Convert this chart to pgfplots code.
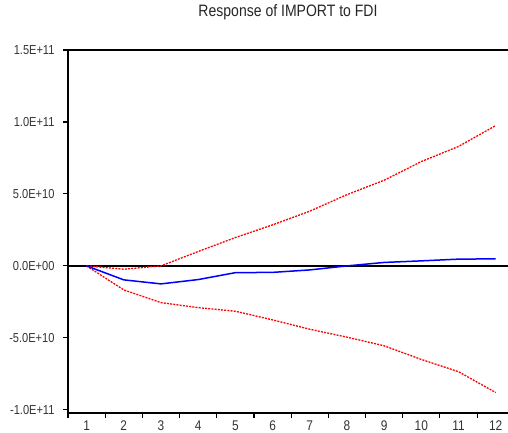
\documentclass[border=0pt]{standalone}
\usepackage{pgfplots}
\pgfplotsset{compat=1.18}
\usepackage{fontspec}
\setmainfont{Liberation Sans}[FakeStretch=0.85]

% Impulse response of IMPORT to a shock in FDI, with +/- 2 S.E. bands
\pgfplotstableread{
h  resp      upper     lower
1  0         0         0
2  -0.97e10  -0.23e10  -1.67e10
3  -1.25e10  0         -2.55e10
4  -0.95e10  1.00e10   -2.90e10
5  -0.47e10  1.97e10   -3.15e10
6  -0.45e10  2.85e10   -3.75e10
7  -0.28e10  3.80e10   -4.40e10
8  0.00e10   4.95e10   -4.95e10
9  0.24e10   5.95e10   -5.55e10
10 0.35e10   7.25e10   -6.50e10
11 0.47e10   8.30e10   -7.35e10
12 0.49e10   9.75e10   -8.80e10
}\irf

\begin{document}
\begin{tikzpicture}
\begin{axis}[
  scale only axis,
  width=440pt, height=363pt,
  xmin=0.5, xmax=12.33,
  ymin=-1.022e11, ymax=1.5e11,
  axis x line*=bottom, axis y line*=left,
  axis line style={line width=1.4pt, -},
  tick style={black, line width=1.1pt},
  tick align=outside,
  major tick length=5pt,
  xtick={0.5,1.5,...,11.5}, xticklabels={},
  extra x ticks={1,...,12},
  extra x tick labels={1,2,3,4,5,6,7,8,9,10,11,12},
  extra x tick style={major tick length=0pt,
    xticklabel style={yshift=-4pt, font=\fontsize{14}{14}\selectfont}},
  ytick={-1e11,-5e10,0,5e10,1e11,1.5e11},
  yticklabels={-1.0E+11,-5.0E+10,0.0E+00,5.0E+10,1.0E+11,1.5E+11},
  yticklabel style={xshift=-5pt},
  ticklabel style={font=\fontsize{13}{13}\selectfont, text=black!80},
  scaled y ticks=false,
  title={Response of IMPORT to FDI},
  title style={at={(0.5,1)}, anchor=base, yshift=27pt,
    font=\fontsize{16.5}{16.5}\selectfont, text=black!85},
  clip=false,
]
\addplot[black, line width=1.4pt] coordinates {(0.5,0) (12.33,0)};
\draw[black, line width=1.4pt] (rel axis cs:0,1) -- (rel axis cs:1,1);
\addplot[red, line width=1.3pt, dash pattern=on 2pt off 1.2pt] table[x=h, y=upper] {\irf};
\addplot[red, line width=1.3pt, dash pattern=on 2pt off 1.2pt] table[x=h, y=lower] {\irf};
\addplot[blue, line width=1.5pt] table[x=h, y=resp] {\irf};
\end{axis}
\pgfresetboundingbox
\path[use as bounding box] (-68pt,-20pt) rectangle (440pt,413pt);
\end{tikzpicture}
\end{document}
